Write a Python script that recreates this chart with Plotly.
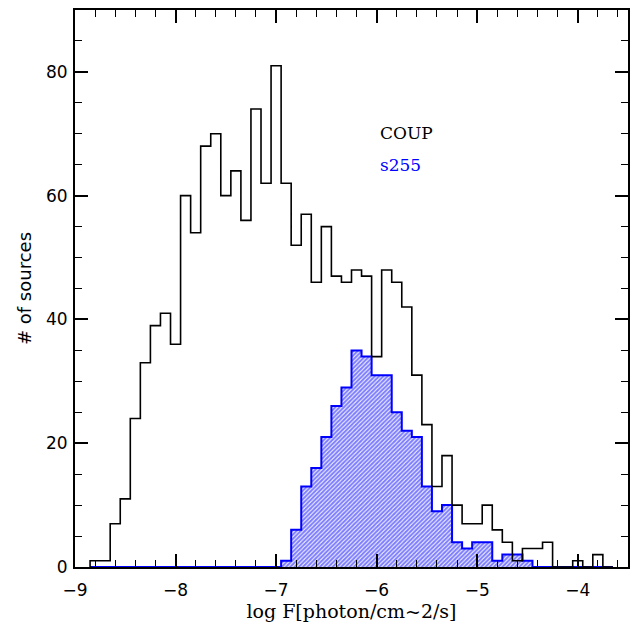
import plotly.graph_objects as go

# bin centres (log F)
centers = [-8.8, -8.7, -8.6, -8.5, -8.4, -8.3, -8.2, -8.1, -8.0, -7.9,
           -7.8, -7.7, -7.6, -7.5, -7.4, -7.3, -7.2, -7.1, -7.0, -6.9,
           -6.8, -6.7, -6.6, -6.5, -6.4, -6.3, -6.2, -6.1, -6.0, -5.9,
           -5.8, -5.7, -5.6, -5.5, -5.4, -5.3, -5.2, -5.1, -5.0, -4.9,
           -4.8, -4.7, -4.6, -4.5, -4.4, -4.3, -4.2, -4.1, -4.0, -3.9,
           -3.8, -3.7]

coup = [1, 1, 7, 11, 24, 33, 39, 41, 36, 60,
        54, 68, 70, 60, 64, 56, 74, 62, 81, 62,
        52, 57, 46, 55, 47, 46, 48, 47, 34, 48,
        46, 42, 31, 23, 13, 18, 10, 7, 7, 10,
        6, 4, 1, 3, 3, 4, 0, 0, 1, 0,
        2, 0]

s255 = [0, 0, 0, 0, 0, 0, 0, 0, 0, 0,
        0, 0, 0, 0, 0, 0, 0, 0, 0, 1,
        6, 13, 16, 21, 26, 29, 35, 34, 31, 31,
        25, 22, 21, 13, 9, 10, 4, 3, 4, 4,
        1, 2, 2, 1, 0, 0, 0, 0, 0, 0,
        0, 0]

bin_width = 0.1
x_ticks = [-9, -8, -7, -6, -5, -4]
y_ticks = [0, 20, 40, 60, 80]

BLUE = "#0000ff"


def step_xy(cs, vals, w):
    xs = [cs[0] - w / 2] + [c - w / 2 for c in cs] + [cs[-1] + w / 2, cs[-1] + w / 2]
    ys = [0] + list(vals) + [vals[-1], 0]
    return xs, ys


fig = go.Figure()

fig.add_trace(go.Bar(
    x=centers, y=s255, width=bin_width,
    marker=dict(color="white", line=dict(width=0),
                pattern=dict(shape="/", fgcolor=BLUE, bgcolor="white",
                             size=3, solidity=0.7, fillmode="overlay")),
    showlegend=False, hoverinfo="skip",
))

bx, by = step_xy(centers, s255, bin_width)
fig.add_trace(go.Scatter(x=bx, y=by, mode="lines", line=dict(color=BLUE, width=2, shape="hv"),
                         showlegend=False, hoverinfo="skip"))

kx, ky = step_xy(centers, coup, bin_width)
fig.add_trace(go.Scatter(x=kx, y=ky, mode="lines", line=dict(color="black", width=1.6, shape="hv"),
                         showlegend=False, hoverinfo="skip"))

fig.add_annotation(x=-5.99, y=70.2, text="COUP", showarrow=False, xanchor="left", yanchor="middle",
                   font=dict(family="DejaVu Serif", size=17, color="black"))
fig.add_annotation(x=-5.99, y=65.0, text="s255", showarrow=False, xanchor="left", yanchor="middle",
                   font=dict(family="DejaVu Serif", size=17, color=BLUE))

axis_common = dict(showgrid=False, zeroline=False, showline=True, linecolor="black", linewidth=2,
                   mirror="allticks", ticks="inside", tickcolor="black", tickwidth=1.5,
                   tickfont=dict(family="DejaVu Sans", size=17, color="black"))

fig.update_xaxes(range=[-9, -3.5], tickvals=x_ticks, ticklen=13, ticklabelstandoff=7,
                 minor=dict(ticks="inside", dtick=0.2, tick0=-9, ticklen=7, tickcolor="black", tickwidth=1.2, showgrid=False),
                 title=dict(text="log F[photon/cm~2/s]", font=dict(family="DejaVu Serif", size=19, color="black"),
                            standoff=2),
                 **axis_common)
fig.update_yaxes(range=[0, 90], tickvals=y_ticks, ticklen=13, ticklabelstandoff=2,
                 minor=dict(ticks="inside", dtick=5, tick0=0, ticklen=7, tickcolor="black", tickwidth=1.2, showgrid=False),
                 title=dict(text="# of sources", font=dict(family="DejaVu Sans", size=18, color="black"),
                            standoff=10),
                 **axis_common)

fig.update_layout(width=632, height=624, margin=dict(l=75, r=2, t=10, b=57),
                  plot_bgcolor="white", paper_bgcolor="white", bargap=0, barmode="overlay")

fig.write_html("out.html")
